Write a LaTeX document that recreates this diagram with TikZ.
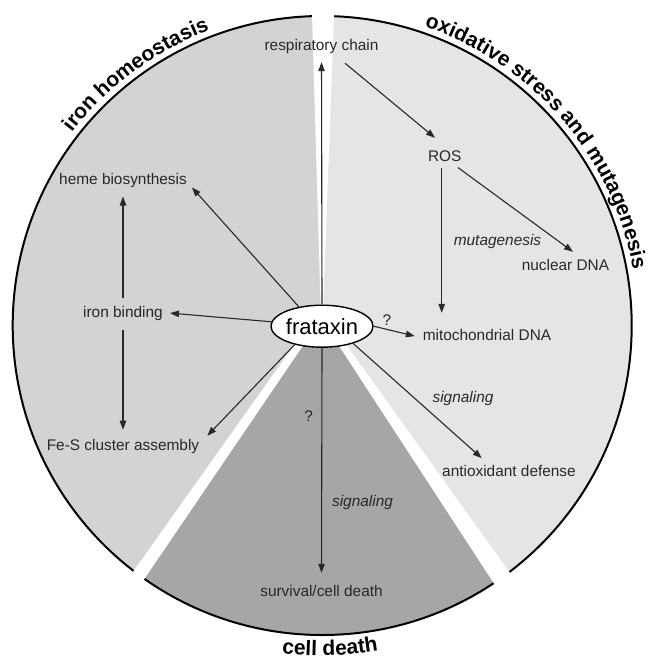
\documentclass[tikz,border=0pt]{standalone}
\usepackage{fontspec}
\setmainfont{Liberation Sans}
\usetikzlibrary{arrows.meta,decorations.text,shapes.geometric}
\definecolor{ironc}{RGB}{211,211,211}
\definecolor{oxc}{RGB}{229,229,229}
\definecolor{deathc}{RGB}{166,166,166}
\definecolor{inkc}{RGB}{40,40,40}
\newcommand{\ttlfont}{\bfseries\fontsize{21}{21}\selectfont}
\begin{document}
\begin{tikzpicture}[x=1pt,y=-1pt,
  lbl/.style={font=\fontsize{15.4}{18}\selectfont, text=inkc, inner sep=3pt, text height=11.1pt, text depth=3.3pt},
  ital/.style={font=\fontsize{15.4}{18}\selectfont\itshape},
  arr/.style={draw=inkc, line width=1.1pt, -{Triangle[length=9pt,width=6.5pt]}},
  gap/.style={fill=white}
]
\useasboundingbox (0,0) rectangle (650,659);
% sectors
\begin{scope}
\clip (322.2,325.5) circle[radius=309.5pt];
\fill[oxc] (0,0) rectangle (650,659);
\fill[ironc] (322,318) -- (322.5,-10) -- (-10,-10) -- (-10,700) -- (48.8,700) -- cycle;
\fill[deathc] (322,318) -- (48.8,700) -- (586.3,700) -- cycle;
\end{scope}
\draw[line width=2pt, black] (322.2,325.5) circle[radius=309.5pt];
% white gaps
\fill[gap] (320.8,312) -- (323,312) -- (334.6,0) -- (311.6,0) -- cycle;
\fill[gap] (301.2,335) -- (310.2,335) -- (109.6,630) -- (91.7,630) -- cycle;
\fill[gap] (331.9,335) -- (339.2,335) -- (551,630) -- (524.3,630) -- cycle;
% curved titles
\path[decorate, decoration={text along path, text align=center, text={|\ttlfont|iron homeostasis}}]
  plot[domain=164.6:88.6, samples=100] ({322.2+316*cos(\x)}, {325.5-316*sin(\x)});
\path[decorate, decoration={text along path, text align=center, text={|\ttlfont|oxidative stress and mutagenesis}}]
  plot[domain=80:1.3, samples=100] ({322.2+316*cos(\x)}, {325.5-316*sin(\x)});
\path[decorate, decoration={text along path, text align=center, text={|\ttlfont|cell death}}]
  plot[domain=250:292.8, samples=100] ({322.2+330*cos(\x)}, {325.5-330*sin(\x)});
% nodes
\node[ellipse, draw=black, line width=1.4pt, fill=white, minimum width=98pt, minimum height=42pt,
      inner sep=0pt, font=\fontsize{22}{24}\selectfont, text=black] (frat) at (322,326.2) {frataxin};
\node[lbl] (resp) at (321.5,46.1) {respiratory chain};
\node[lbl] (ros) at (444.7,157.8) {ROS};
\node[lbl] (nuc) at (565.5,266.1) {nuclear DNA};
\node[lbl, ital] (mut) at (497.5,241.1) {mutagenesis};
\node[lbl] (mito) at (487,336.1) {mitochondrial DNA};
\node[lbl] (heme) at (123,180.1) {heme biosynthesis};
\node[lbl] (iron) at (123,313.1) {iron binding};
\node[lbl] (fes) at (123,446.1) {Fe-S cluster assembly};
\node[lbl] (anti) at (509,472.1) {antioxidant defense};
\node[lbl, ital] (sig1) at (463,398.8) {signaling};
\node[lbl, ital] (sig2) at (362.5,502.8) {signaling};
\node[lbl] (surv) at (321.5,592.8) {survival/cell death};
\node[lbl] (q1) at (387,321.1) {?};
\node[lbl] (q2) at (308.7,417.8) {?};
% arrows
\draw[arr] (frat.140.5) -- ([shift={(2,-3)}]heme.south east);
\draw[arr] (frat.175) -- ([shift={(4,0)}]iron.east);
\draw[arr] (frat.214.5) -- ([shift={(5,0)}]fes.north east);
\draw[arr, shorten <=5pt, shorten >=6pt] (iron.north) -- (heme.south);
\draw[arr, shorten <=6pt, shorten >=6pt] (iron.south) -- (fes.north);
\draw[arr, shorten >=5.7pt] (frat.north) -- (resp.south);
\draw[arr] ([shift={(23.5,6.7)}]resp.south) -- ([shift={(-9.7,-9.6)}]ros.north);
\draw[arr] ([shift={(-3,0)}]ros.south) -- ([shift={(-45.3,-12.9)}]mito.north);
\draw[arr] ([shift={(-6.7,-0.7)}]ros.south east) -- ([shift={(7.5,-3.9)}]nuc.north);
\draw[arr] (frat.east) -- ([shift={(-4.8,0)}]mito.west);
\draw[arr] (frat.331.4) -- ([shift={(-27.3,-3.6)}]anti.north);
\draw[arr, shorten >=9.6pt] (frat.south) -- (surv.north);
\end{tikzpicture}
\end{document}
